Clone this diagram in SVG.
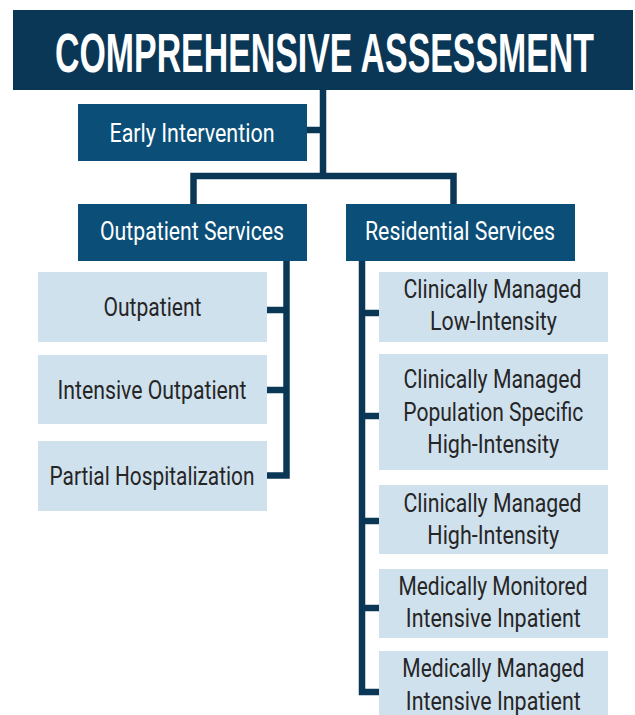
<svg xmlns="http://www.w3.org/2000/svg" width="635" height="715" viewBox="0 0 635 715">
<style>
.title{fill:#0b3756}
.svc{fill:#0b4f79}
.sub{fill:#d0e1ee}
.tt{font-family:"Liberation Sans",Arial,sans-serif;font-weight:bold;font-size:56px;fill:#fff}
.st{font-family:Roboto,"Liberation Sans",sans-serif;font-size:25px;fill:#fff;text-anchor:middle}
.lt{font-family:Roboto,"Liberation Sans",sans-serif;font-size:25px;fill:#262626;text-anchor:middle}
.con{fill:none;stroke:#0b3756;stroke-width:6.5;stroke-linejoin:miter;stroke-linecap:butt}
</style>
<rect width="635" height="715" fill="#fff"/>
<g id="connectors">
<path class="con" d="M323 90 V176"/>
<path class="con" d="M307 130 H323"/>
<path class="con" d="M193.5 205 V176 H453.5 V205"/>
<path class="con" d="M286.5 260 V475.5 H267"/>
<path class="con" d="M286.5 310 H267"/>
<path class="con" d="M286.5 390 H267"/>
<path class="con" d="M362 260 V692 H379"/>
<path class="con" d="M362 313 H379"/>
<path class="con" d="M362 416 H379"/>
<path class="con" d="M362 521 H379"/>
<path class="con" d="M362 608 H379"/>
</g>
<g id="title">
<rect class="title" x="13" y="10" width="620" height="80"/>
<text class="tt" x="55" y="72" textLength="539" lengthAdjust="spacingAndGlyphs">COMPREHENSIVE ASSESSMENT</text>
</g>
<g id="early">
<rect class="svc" x="78" y="104" width="229" height="57"/>
<text class="st" x="192" y="141.5" textLength="165" lengthAdjust="spacingAndGlyphs">Early Intervention</text>
</g>
<g id="outpatient-services">
<rect class="svc" x="78" y="204" width="229" height="57"/>
<text class="st" x="192" y="240" textLength="184" lengthAdjust="spacingAndGlyphs">Outpatient Services</text>
</g>
<g id="residential-services">
<rect class="svc" x="346" y="204" width="229" height="57"/>
<text class="st" x="460" y="240" textLength="190" lengthAdjust="spacingAndGlyphs">Residential Services</text>
</g>
<g id="outpatient">
<rect class="sub" x="38" y="272" width="229" height="70"/>
<text class="lt" x="152.5" y="315.5" textLength="98" lengthAdjust="spacingAndGlyphs">Outpatient</text>
</g>
<g id="intensive-outpatient">
<rect class="sub" x="38" y="355" width="229" height="69"/>
<text class="lt" x="152" y="399" textLength="189" lengthAdjust="spacingAndGlyphs">Intensive Outpatient</text>
</g>
<g id="partial-hospitalization">
<rect class="sub" x="38" y="441" width="229" height="70"/>
<text class="lt" x="152" y="484.5" textLength="205" lengthAdjust="spacingAndGlyphs">Partial Hospitalization</text>
</g>
<g id="cm-low">
<rect class="sub" x="379" y="272" width="229" height="70"/>
<text class="lt" x="492.5" y="297.5" textLength="178" lengthAdjust="spacingAndGlyphs">Clinically Managed</text>
<text class="lt" x="493.5" y="330" textLength="127" lengthAdjust="spacingAndGlyphs">Low-Intensity</text>
</g>
<g id="cm-pop">
<rect class="sub" x="379" y="354" width="229" height="116"/>
<text class="lt" x="492.5" y="388" textLength="178" lengthAdjust="spacingAndGlyphs">Clinically Managed</text>
<text class="lt" x="493.3" y="420.5" textLength="180" lengthAdjust="spacingAndGlyphs">Population Specific</text>
<text class="lt" x="493.3" y="453" textLength="132" lengthAdjust="spacingAndGlyphs">High-Intensity</text>
</g>
<g id="cm-high">
<rect class="sub" x="379" y="485" width="229" height="69"/>
<text class="lt" x="492.5" y="511.5" textLength="178" lengthAdjust="spacingAndGlyphs">Clinically Managed</text>
<text class="lt" x="493.3" y="544" textLength="132" lengthAdjust="spacingAndGlyphs">High-Intensity</text>
</g>
<g id="mm-monitored">
<rect class="sub" x="379" y="569" width="229" height="69"/>
<text class="lt" x="493" y="595" textLength="189" lengthAdjust="spacingAndGlyphs">Medically Monitored</text>
<text class="lt" x="493.3" y="627" textLength="175" lengthAdjust="spacingAndGlyphs">Intensive Inpatient</text>
</g>
<g id="mm-managed">
<rect class="sub" x="379" y="651" width="229" height="70"/>
<text class="lt" x="493.3" y="677" textLength="182" lengthAdjust="spacingAndGlyphs">Medically Managed</text>
<text class="lt" x="493.3" y="709.5" textLength="175" lengthAdjust="spacingAndGlyphs">Intensive Inpatient</text>
</g>
</svg>
